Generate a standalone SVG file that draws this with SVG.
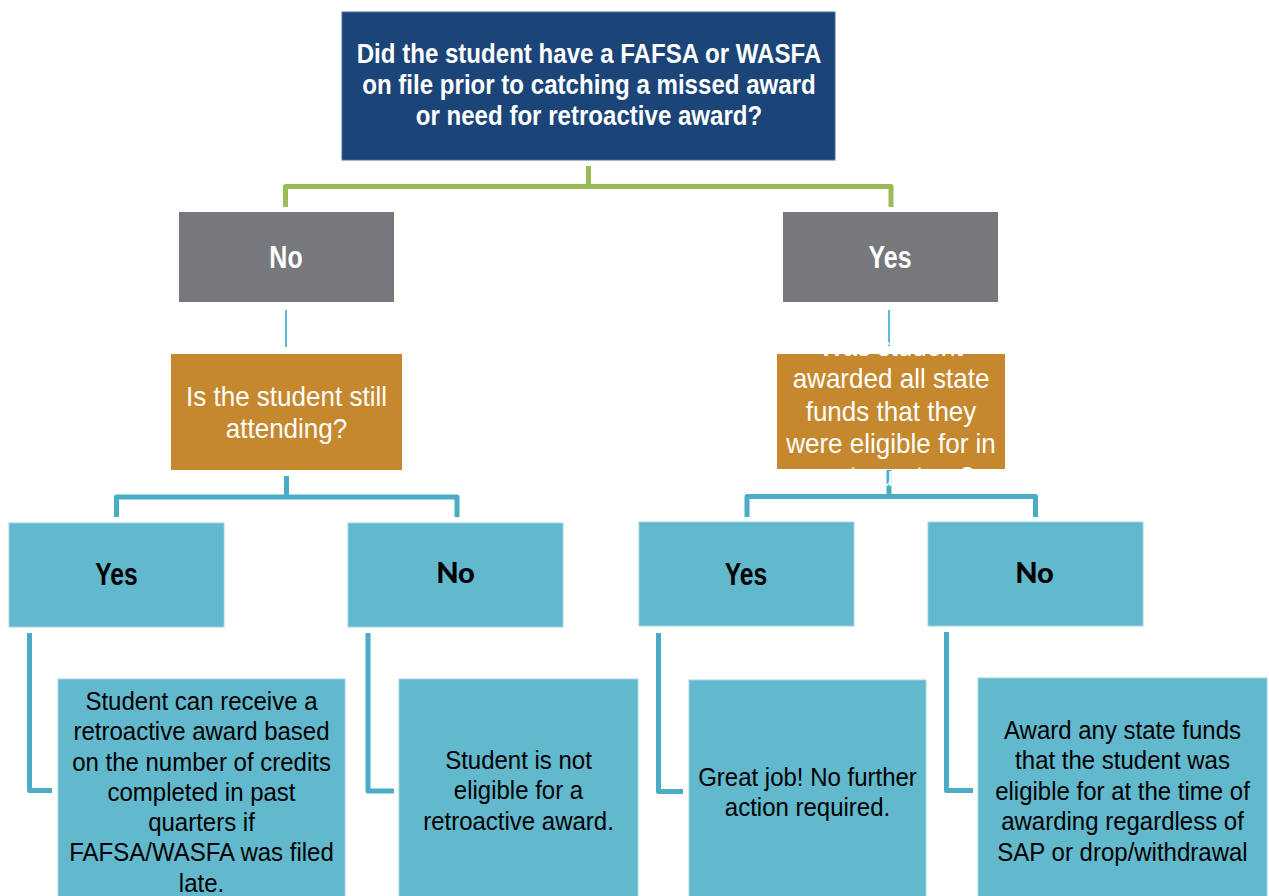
<svg xmlns="http://www.w3.org/2000/svg" width="1269" height="896" viewBox="0 0 1269 896">
<style>
.bg{fill:#ffffff}
.q{fill:#1b4579;stroke:#4a6d96;stroke-width:1}
.g{fill:#77787b}
.o{fill:#c6882e}
.b{fill:#62b8cd;stroke:#9fd3e1;stroke-width:1}
.cg{fill:none;stroke:#9bbb59;stroke-width:5;stroke-linejoin:round}
.cb{fill:none;stroke:#4bacc6;stroke-width:5;stroke-linejoin:round}
.ct{fill:none;stroke:#5bbad5;stroke-width:2}
text{font-family:"Liberation Sans",Arial,sans-serif;text-anchor:middle}
.tq{fill:#ffffff;font-weight:bold;font-size:28px}
.tg{fill:#ffffff;font-weight:bold;font-size:32px}
.to{fill:#ffffff;font-size:28px}
.ty{fill:#000000;font-weight:bold;font-size:32px}
.tn{fill:#000000;font-family:Lato,"Liberation Sans",sans-serif;font-weight:900;font-size:29px}
.tl{fill:#000000;font-size:25px}
</style>
<rect class="bg" x="0" y="0" width="1269" height="896"/>
<g id="connectors">
  <path class="cg" d="M588.5 166 V186.5 H285.5 V207 M588.5 186.5 H891 V207"/>
  <path class="ct" d="M286 310 V347"/>
  <path class="ct" d="M889 310 V346"/>
  <path class="cb" d="M286.5 476 V497 H116.5 V517 M286.5 497 H457 V517"/>
  <path class="cb" d="M889 470 V496.5 H747 V517 M889 496.5 H1035.5 V517"/>
  <path class="cb" d="M29.5 633 V790.5 H52"/>
  <path class="cb" d="M368 633 V791 H394"/>
  <path class="cb" d="M658.5 633 V791.5 H683"/>
  <path class="cb" d="M946.5 632 V790.5 H973"/>
</g>
<g id="n-question">
  <rect class="q" x="342" y="12" width="493" height="148"/>
  <text class="tq" transform="translate(589 0) scale(0.86 1)"><tspan x="0" y="63">Did the student have a FAFSA or WASFA</tspan><tspan x="0" y="94">on file prior to catching a missed award</tspan><tspan x="0" y="125">or need for retroactive award?</tspan></text>
</g>
<g id="n-no">
  <rect class="g" x="179" y="212" width="215" height="90"/>
  <text class="tg" transform="translate(286 0) scale(0.78 1)"><tspan x="0" y="268">No</tspan></text>
</g>
<g id="n-yes">
  <rect class="g" x="783" y="212" width="215" height="90"/>
  <text class="tg" transform="translate(890 0) scale(0.78 1)"><tspan x="0" y="268">Yes</tspan></text>
</g>
<g id="n-attending">
  <rect class="o" x="171" y="354" width="231" height="116"/>
  <text class="to" transform="translate(286.5 0) scale(0.93 1)"><tspan x="0" y="406">Is the student still</tspan><tspan x="0" y="438">attending?</tspan></text>
</g>
<g id="n-awarded">
  <rect class="o" x="777" y="354" width="228" height="115"/>
  <text class="to" transform="translate(891 0) scale(0.93 1)"><tspan x="0" y="356">Was student</tspan><tspan x="0" y="388.5">awarded all state</tspan><tspan x="0" y="421">funds that they</tspan><tspan x="0" y="453.5">were eligible for in</tspan><tspan x="0" y="486">past quarters?</tspan></text>
</g>
<g id="n-att-yes">
  <rect class="b" x="9" y="523" width="215" height="104"/>
  <text class="ty" transform="translate(116.5 0) scale(0.77 1)"><tspan x="0" y="585">Yes</tspan></text>
</g>
<g id="n-att-no">
  <rect class="b" x="348" y="523" width="215" height="104"/>
  <text class="tn" x="455.5" y="583">No</text>
</g>
<g id="n-aw-yes">
  <rect class="b" x="639" y="522" width="215" height="104"/>
  <text class="ty" transform="translate(746 0) scale(0.77 1)"><tspan x="0" y="585">Yes</tspan></text>
</g>
<g id="n-aw-no">
  <rect class="b" x="928" y="522" width="215" height="104"/>
  <text class="tn" x="1034.5" y="583">No</text>
</g>
<g id="n-retro">
  <rect class="b" x="58" y="679" width="287" height="230"/>
  <text class="tl" transform="translate(201.5 0) scale(0.96 1)"><tspan x="0" y="710">Student can receive a</tspan><tspan x="0" y="740.3">retroactive award based</tspan><tspan x="0" y="770.6">on the number of credits</tspan><tspan x="0" y="800.9">completed in past</tspan><tspan x="0" y="831.2">quarters if</tspan><tspan x="0" y="861.5">FAFSA/WASFA was filed</tspan><tspan x="0" y="891.8">late.</tspan></text>
</g>
<g id="n-not-eligible">
  <rect class="b" x="399" y="679" width="239" height="230"/>
  <text class="tl" transform="translate(518.5 0) scale(0.96 1)"><tspan x="0" y="769">Student is not</tspan><tspan x="0" y="799.5">eligible for a</tspan><tspan x="0" y="830">retroactive award.</tspan></text>
</g>
<g id="n-great">
  <rect class="b" x="689" y="680" width="237" height="230"/>
  <text class="tl" transform="translate(807.5 0) scale(0.96 1)"><tspan x="0" y="785.7">Great job! No further</tspan><tspan x="0" y="816.5">action required.</tspan></text>
</g>
<g id="n-award-funds">
  <rect class="b" x="978" y="678" width="289" height="230"/>
  <text class="tl" transform="translate(1122.5 0) scale(0.96 1)"><tspan x="0" y="739">Award any state funds</tspan><tspan x="0" y="769.5">that the student was</tspan><tspan x="0" y="800">eligible for at the time of</tspan><tspan x="0" y="830.3">awarding regardless of</tspan><tspan x="0" y="860.6">SAP or drop/withdrawal</tspan></text>
</g>
</svg>
